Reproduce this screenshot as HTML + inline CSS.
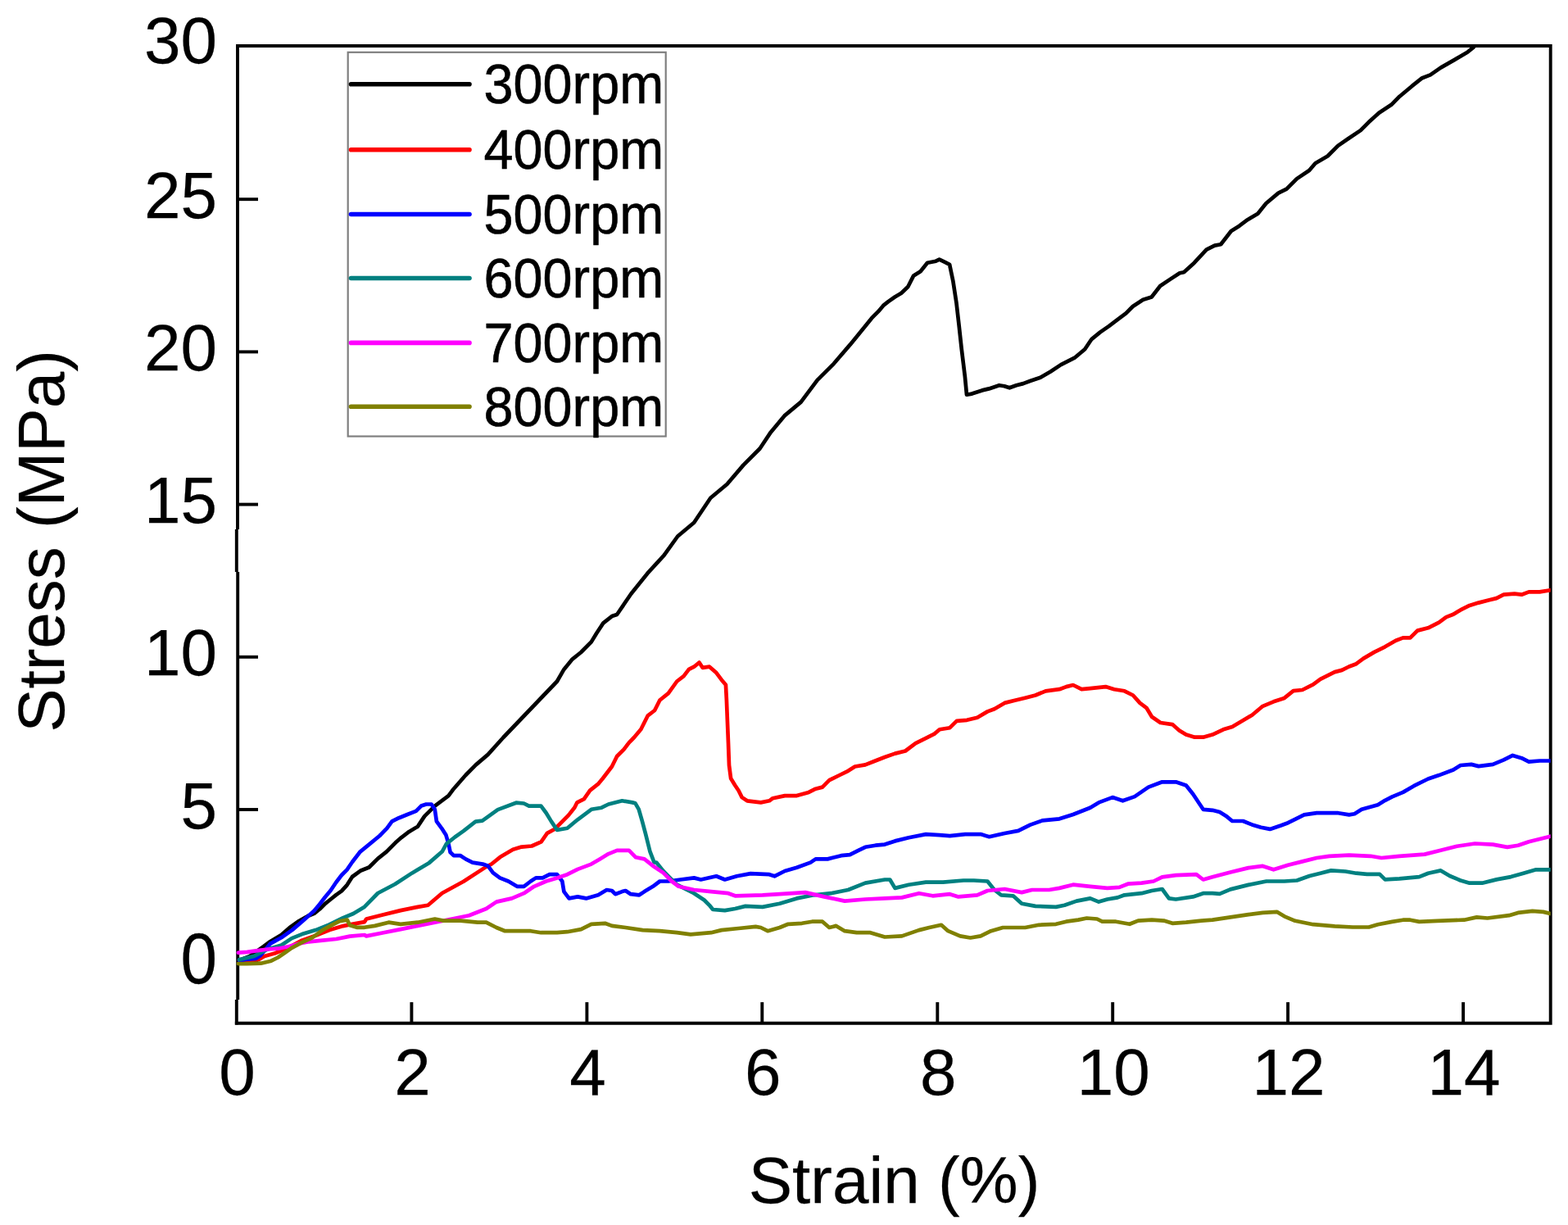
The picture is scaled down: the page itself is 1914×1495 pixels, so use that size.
<!DOCTYPE html>
<html><head><meta charset="utf-8"><style>
html,body{margin:0;padding:0;background:#fff;}
svg{display:block;}
text{font-family:"Liberation Sans",Arial,sans-serif;fill:#000;stroke:#000;stroke-width:0.25px;}
.lg text{stroke-width:0.6px;}
</style></head><body>
<svg width="1914" height="1495" viewBox="0 0 1914 1495">
<rect width="1914" height="1495" fill="#fff"/>
<g stroke="#000" stroke-width="3.9" fill="none">
<path d="M290,56 H1892.7 V1248.8 H288.8" stroke-linecap="square"/>
<path d="M290,56 V646 M288.8,646 V698 M290.2,698 V1220 M288.8,1220 V1250.6"/>
<line x1="502.4" y1="1248.8" x2="502.4" y2="1223.1"/>
<line x1="716.4" y1="1248.8" x2="716.4" y2="1223.1"/>
<line x1="930.3" y1="1248.8" x2="930.3" y2="1223.1"/>
<line x1="1144.3" y1="1248.8" x2="1144.3" y2="1223.1"/>
<line x1="1358.2" y1="1248.8" x2="1358.2" y2="1223.1"/>
<line x1="1572.1" y1="1248.8" x2="1572.1" y2="1223.1"/>
<line x1="1786.1" y1="1248.8" x2="1786.1" y2="1223.1"/>
<line x1="290" y1="1174.3" x2="315" y2="1174.3"/>
<line x1="290" y1="988.0" x2="315" y2="988.0"/>
<line x1="290" y1="801.8" x2="315" y2="801.8"/>
<line x1="290" y1="615.6" x2="315" y2="615.6"/>
<line x1="290" y1="429.4" x2="315" y2="429.4"/>
<line x1="290" y1="243.2" x2="315" y2="243.2"/>
</g>
<clipPath id="pc"><rect x="288" y="56" width="1604.7" height="1192.8"/></clipPath>
<g fill="none" stroke-width="4.7" stroke-linejoin="round" stroke-linecap="round" clip-path="url(#pc)">
<path d="M292.0,1172.0 L305.0,1167.0 L322.0,1155.0 L330.0,1149.0 L343.4,1141.0 L353.4,1132.2 L365.0,1124.0 L375.6,1118.0 L383.5,1114.8 L390.2,1109.5 L396.9,1102.8 L403.6,1097.5 L410.3,1092.1 L417.0,1087.4 L423.6,1080.1 L430.0,1070.0 L439.8,1062.8 L450.5,1058.5 L461.2,1047.8 L471.9,1039.3 L482.6,1028.6 L490.0,1022.1 L499.4,1014.9 L509.9,1008.7 L518.2,996.1 L530.8,983.6 L547.5,971.1 L553.8,962.7 L568.4,946.0 L580.9,933.4 L595.6,920.9 L614.4,900.0 L680.0,831.5 L688.4,816.9 L698.8,804.3 L709.3,796.0 L721.8,783.4 L728.1,773.0 L736.4,760.4 L746.9,752.1 L753.1,750.0 L770.3,724.7 L790.4,699.7 L810.4,677.9 L827.2,654.5 L847.2,637.8 L867.3,607.7 L887.4,591.0 L907.4,567.6 L927.5,547.5 L940.9,527.4 L957.6,507.4 L977.7,490.6 L997.7,463.9 L1017.8,443.8 L1037.9,420.4 L1056.0,398.2 L1064.1,388.2 L1072.1,380.2 L1078.2,372.9 L1084.2,368.1 L1092.2,362.5 L1100.2,357.7 L1108.3,350.0 L1115.2,336.4 L1123.6,331.2 L1132.0,320.8 L1142.4,318.7 L1146.6,316.6 L1152.9,319.7 L1159.1,322.8 L1163.3,342.7 L1167.5,369.9 L1170.6,397.0 L1173.8,426.3 L1177.9,459.7 L1180.0,481.7 L1186.3,480.6 L1198.8,476.4 L1207.2,474.4 L1219.7,470.2 L1226.0,471.2 L1232.3,473.3 L1240.6,470.2 L1249.0,468.1 L1257.3,465.0 L1269.9,460.8 L1282.4,453.5 L1295.0,445.1 L1311.7,436.7 L1324.2,426.3 L1332.6,413.8 L1343.0,405.4 L1353.5,398.1 L1366.0,388.7 L1374.4,382.4 L1382.7,374.0 L1395.3,365.7 L1405.7,362.5 L1416.2,349.0 L1428.7,340.6 L1440.0,333.3 L1445.1,332.2 L1457.6,320.9 L1472.7,304.6 L1482.7,299.6 L1490.2,298.3 L1502.8,282.0 L1512.8,275.7 L1522.8,268.2 L1535.4,260.7 L1545.4,248.2 L1560.4,235.6 L1570.5,230.6 L1583.0,218.1 L1598.1,208.0 L1605.6,199.2 L1620.6,190.5 L1633.2,177.9 L1645.7,169.2 L1660.8,159.1 L1670.8,149.1 L1683.3,137.8 L1698.4,127.8 L1708.4,117.7 L1723.4,105.2 L1736.0,95.2 L1746.0,91.4 L1758.6,82.6 L1776.1,72.6 L1791.2,63.8 L1798.7,57.6" stroke="#000000"/>
<path d="M292.0,1172.0 L305.0,1172.0 L315.9,1171.1 L322.6,1166.9 L335.2,1163.5 L347.7,1158.5 L356.1,1154.3 L368.6,1147.6 L385.3,1141.8 L402.0,1135.1 L418.8,1130.1 L427.1,1128.4 L445.0,1125.1 L447.2,1121.5 L468.1,1116.3 L489.0,1111.1 L509.9,1106.9 L522.4,1104.8 L539.7,1090.0 L565.8,1075.8 L593.0,1058.1 L600.0,1054.5 L610.4,1046.1 L626.1,1036.7 L636.6,1033.6 L649.1,1032.5 L660.6,1027.3 L667.9,1016.9 L677.3,1011.7 L683.6,1005.4 L694.0,994.9 L701.4,985.5 L704.5,979.3 L712.9,975.1 L720.2,964.6 L730.6,956.3 L735.8,950.0 L746.9,935.5 L753.1,923.0 L761.5,914.6 L767.8,906.3 L774.0,900.0 L782.4,890.0 L790.8,873.3 L799.1,867.0 L805.4,854.5 L815.8,846.1 L826.3,831.5 L834.6,825.2 L840.9,816.9 L847.2,813.7 L853.5,808.5 L857.6,814.8 L866.0,813.7 L874.4,821.1 L880.6,829.4 L885.9,835.7 L886.9,854.5 L887.9,879.6 L889.0,906.7 L890.0,933.9 L892.1,950.0 L897.3,958.5 L901.5,964.8 L905.7,973.1 L912.0,977.3 L928.7,979.4 L939.1,977.3 L943.3,974.2 L958.0,971.1 L972.6,971.1 L987.2,966.9 L995.6,962.7 L1003.9,960.6 L1012.3,952.2 L1024.8,946.0 L1035.3,940.8 L1043.6,935.5 L1056.2,933.4 L1066.6,929.3 L1080.0,924.0 L1092.5,919.6 L1105.1,916.5 L1117.6,907.1 L1130.2,900.8 L1140.6,895.6 L1146.9,890.3 L1159.4,888.2 L1167.8,879.9 L1180.3,878.8 L1192.9,875.7 L1205.4,868.4 L1213.8,865.3 L1226.3,857.9 L1238.8,854.8 L1251.4,851.7 L1263.9,848.5 L1276.4,843.3 L1293.2,841.2 L1301.5,838.1 L1309.9,836.0 L1320.3,841.2 L1330.8,840.2 L1349.6,838.1 L1360.0,841.2 L1372.6,843.3 L1383.0,848.5 L1391.4,857.9 L1399.7,864.2 L1406.0,874.7 L1416.5,882.0 L1431.1,884.1 L1439.5,891.4 L1447.8,896.6 L1458.3,899.7 L1468.7,899.7 L1480.0,896.6 L1493.2,890.3 L1504.1,887.0 L1515.1,880.4 L1528.3,872.7 L1541.4,861.8 L1554.6,856.3 L1567.8,851.9 L1578.7,843.1 L1589.7,842.0 L1602.9,835.4 L1611.7,828.8 L1629.2,820.1 L1638.0,817.9 L1646.8,813.5 L1655.5,810.2 L1664.3,803.6 L1677.5,795.9 L1690.7,789.3 L1703.8,781.7 L1712.6,778.4 L1721.4,778.4 L1730.2,769.6 L1743.3,766.3 L1756.5,759.7 L1765.3,753.1 L1774.0,749.8 L1782.8,744.4 L1793.8,738.9 L1804.8,735.6 L1817.9,732.3 L1826.7,730.1 L1835.5,725.7 L1848.7,724.6 L1857.4,725.7 L1866.2,722.4 L1879.4,722.4 L1892.5,720.2" stroke="#FF0000"/>
<path d="M292.0,1172.0 L295.0,1171.9 L300.0,1171.0 L312.0,1170.0 L318.0,1166.0 L324.0,1159.0 L330.0,1151.6 L343.4,1144.3 L356.8,1134.9 L370.1,1123.5 L383.5,1111.5 L390.2,1103.5 L396.9,1094.8 L403.6,1086.8 L410.3,1076.7 L417.0,1068.0 L423.6,1061.3 L430.0,1052.0 L439.8,1039.3 L450.5,1030.7 L463.4,1020.0 L472.3,1010.8 L478.5,1002.4 L486.9,998.2 L497.3,994.0 L507.8,989.9 L514.1,983.6 L520.3,981.5 L526.6,981.5 L530.8,987.8 L532.9,1002.4 L539.1,1010.8 L544.4,1019.1 L547.5,1029.6 L549.6,1040.0 L553.8,1044.2 L562.1,1044.2 L568.4,1048.4 L576.8,1052.6 L589.3,1054.6 L595.6,1056.7 L601.8,1065.1 L610.2,1071.4 L620.6,1075.5 L631.1,1081.8 L639.5,1081.8 L647.8,1075.5 L654.1,1071.4 L662.4,1071.4 L670.8,1067.2 L680.0,1067.2 L686.3,1075.5 L688.4,1088.1 L694.6,1096.4 L705.1,1094.4 L715.5,1096.4 L730.2,1092.3 L740.6,1086.0 L746.9,1087.0 L751.1,1091.2 L759.4,1088.1 L763.6,1087.0 L769.9,1091.2 L780.3,1092.3 L786.6,1088.1 L797.0,1081.8 L805.4,1075.5 L815.8,1075.5 L830.5,1073.5 L847.2,1071.4 L855.5,1073.5 L874.4,1069.3 L884.8,1073.5 L899.4,1069.3 L916.2,1066.1 L939.1,1067.2 L945.4,1069.3 L958.0,1063.0 L972.6,1058.8 L989.3,1052.6 L995.6,1048.4 L1010.2,1048.4 L1026.9,1044.2 L1037.4,1043.2 L1047.8,1037.9 L1056.2,1033.8 L1068.7,1031.7 L1080.0,1030.6 L1092.5,1026.4 L1109.3,1022.3 L1130.2,1018.1 L1146.9,1019.1 L1159.4,1020.2 L1178.2,1018.1 L1197.0,1018.1 L1207.5,1021.2 L1226.3,1017.0 L1243.0,1013.9 L1257.6,1006.6 L1272.3,1001.4 L1293.2,999.3 L1309.9,994.0 L1330.8,985.7 L1341.2,979.4 L1358.0,973.1 L1370.5,977.3 L1385.1,972.1 L1401.8,960.6 L1418.6,954.3 L1435.3,954.3 L1447.8,958.5 L1456.2,969.0 L1464.5,981.5 L1468.7,987.8 L1480.0,988.8 L1488.8,991.1 L1497.6,996.6 L1504.1,1002.0 L1517.3,1002.0 L1528.3,1006.4 L1539.2,1009.7 L1550.2,1011.9 L1563.4,1007.5 L1572.2,1004.2 L1580.9,999.8 L1591.9,994.4 L1607.3,992.2 L1633.6,992.2 L1646.8,994.4 L1653.4,993.3 L1662.1,987.8 L1681.9,982.3 L1690.7,976.8 L1699.4,972.4 L1712.6,966.9 L1725.8,959.2 L1743.3,950.5 L1756.5,946.1 L1774.0,939.5 L1782.8,934.0 L1796.0,932.9 L1804.8,935.1 L1822.3,932.9 L1835.5,927.4 L1846.5,921.9 L1857.4,925.2 L1866.2,929.6 L1879.4,928.5 L1892.5,928.5" stroke="#0000FF"/>
<path d="M292.0,1171.0 L295.9,1170.2 L310.1,1166.9 L326.8,1158.5 L343.5,1153.5 L356.1,1145.1 L368.6,1140.1 L385.3,1135.1 L402.0,1128.4 L418.8,1120.1 L431.3,1115.0 L445.0,1106.7 L461.3,1090.0 L482.2,1079.0 L503.1,1065.4 L524.0,1052.9 L539.7,1039.3 L544.9,1029.9 L555.4,1021.5 L565.8,1014.2 L580.5,1002.7 L588.8,1001.7 L607.6,988.1 L630.0,979.7 L639.5,980.5 L645.7,983.6 L654.1,983.6 L660.4,983.6 L666.6,992.0 L672.9,1002.4 L680.0,1012.9 L692.5,1010.8 L705.1,1000.3 L721.8,987.8 L734.3,985.7 L742.7,981.5 L759.4,977.3 L772.0,979.4 L775.5,980.3 L779.7,987.6 L783.9,1002.2 L788.1,1017.9 L793.3,1038.8 L798.5,1052.4 L801.2,1052.6 L809.6,1063.0 L817.9,1071.4 L826.3,1079.7 L847.2,1090.2 L859.7,1098.5 L866.0,1104.8 L870.2,1110.0 L884.8,1111.1 L897.3,1109.0 L909.9,1105.9 L930.8,1106.9 L951.7,1102.7 L972.6,1096.4 L993.5,1092.3 L1014.4,1090.2 L1035.3,1086.0 L1056.2,1077.6 L1080.0,1073.5 L1086.3,1073.5 L1092.5,1083.9 L1109.3,1079.7 L1130.2,1076.6 L1151.1,1076.6 L1176.1,1074.5 L1188.7,1074.5 L1205.4,1075.5 L1213.8,1086.0 L1222.1,1092.3 L1236.7,1093.3 L1247.2,1102.7 L1263.9,1105.9 L1289.0,1106.9 L1299.4,1104.8 L1314.1,1099.6 L1330.8,1096.4 L1341.2,1100.6 L1351.7,1097.5 L1364.2,1095.4 L1372.6,1092.3 L1393.5,1090.2 L1406.0,1087.0 L1418.6,1085.0 L1426.9,1096.4 L1435.3,1097.5 L1456.2,1094.4 L1468.7,1090.2 L1480.0,1090.2 L1488.8,1090.9 L1501.9,1085.4 L1523.9,1079.9 L1545.8,1075.5 L1567.8,1075.5 L1583.1,1074.5 L1598.5,1069.0 L1611.7,1065.7 L1624.8,1062.4 L1642.4,1063.5 L1655.5,1065.7 L1668.7,1066.8 L1684.1,1066.8 L1690.7,1073.4 L1708.2,1072.3 L1732.4,1070.1 L1743.3,1065.7 L1758.7,1062.4 L1769.7,1069.0 L1782.8,1074.5 L1793.8,1077.7 L1809.2,1077.7 L1826.7,1073.4 L1844.3,1070.1 L1859.6,1065.7 L1875.0,1061.3 L1892.5,1061.3" stroke="#008080"/>
<path d="M290.9,1162.7 L301.7,1161.9 L314.3,1160.2 L326.8,1158.5 L339.3,1157.7 L351.9,1155.2 L364.4,1151.8 L377.0,1149.3 L393.7,1147.6 L410.4,1146.0 L427.1,1142.6 L445.0,1141.0 L447.2,1142.4 L468.1,1138.2 L489.0,1134.1 L509.9,1129.9 L530.8,1125.7 L551.7,1121.5 L572.6,1117.3 L593.5,1109.0 L606.0,1100.6 L624.8,1096.4 L639.5,1090.2 L652.0,1081.8 L666.6,1075.5 L680.0,1071.4 L692.5,1067.2 L705.1,1060.9 L721.8,1054.6 L732.2,1048.4 L742.7,1042.1 L753.1,1037.9 L767.8,1037.9 L776.1,1046.3 L786.6,1048.4 L797.0,1056.7 L809.6,1065.1 L820.0,1075.5 L828.4,1081.8 L847.2,1086.0 L868.1,1088.1 L889.0,1090.2 L897.3,1093.3 L930.8,1092.3 L951.7,1091.2 L983.0,1089.1 L1006.0,1094.4 L1031.1,1099.6 L1056.2,1097.5 L1080.0,1096.4 L1100.9,1095.4 L1121.8,1090.2 L1138.5,1093.3 L1159.4,1091.2 L1169.9,1094.4 L1192.9,1092.3 L1205.4,1087.0 L1226.3,1085.0 L1247.2,1089.1 L1259.7,1086.0 L1280.6,1086.0 L1293.2,1083.9 L1309.9,1079.7 L1330.8,1081.8 L1351.7,1083.9 L1366.3,1082.9 L1376.8,1078.7 L1393.5,1077.6 L1408.1,1075.5 L1418.6,1070.3 L1435.3,1068.2 L1460.4,1067.2 L1468.7,1073.5 L1480.0,1070.3 L1501.9,1064.6 L1523.9,1059.1 L1541.4,1056.9 L1554.6,1061.3 L1572.2,1055.8 L1589.7,1051.4 L1607.3,1047.0 L1622.6,1044.8 L1646.8,1043.7 L1673.1,1044.8 L1686.3,1047.0 L1708.2,1044.8 L1738.9,1042.6 L1756.5,1038.2 L1778.4,1032.8 L1800.4,1029.5 L1822.3,1030.6 L1839.9,1033.9 L1853.0,1031.7 L1866.2,1027.3 L1892.5,1020.7" stroke="#FF00FF"/>
<path d="M290.9,1176.1 L301.7,1176.1 L318.4,1175.7 L331.0,1172.7 L339.3,1168.5 L347.7,1162.7 L356.1,1156.8 L368.6,1150.2 L381.1,1144.3 L393.7,1135.1 L406.2,1128.4 L414.6,1124.2 L423.8,1122.6 L427.1,1129.3 L435.5,1131.8 L445.0,1131.8 L457.6,1129.9 L474.4,1125.7 L489.0,1127.8 L509.9,1125.7 L530.8,1121.5 L541.2,1123.6 L562.1,1123.6 L583.0,1125.7 L593.5,1125.7 L606.0,1132.0 L616.5,1136.2 L635.3,1136.2 L647.8,1136.2 L660.4,1138.2 L680.0,1138.2 L692.5,1137.2 L709.3,1134.1 L721.8,1127.8 L738.5,1126.8 L746.9,1129.9 L763.6,1132.0 L784.5,1135.1 L805.4,1136.2 L826.3,1138.2 L843.0,1140.3 L868.1,1138.2 L880.6,1135.1 L901.5,1133.0 L922.4,1130.9 L928.7,1132.0 L937.1,1136.2 L951.7,1132.0 L962.1,1127.8 L978.9,1126.8 L991.4,1124.7 L1003.9,1124.7 L1012.3,1132.0 L1020.6,1129.9 L1031.1,1136.2 L1045.7,1138.2 L1062.4,1138.2 L1080.0,1143.5 L1100.9,1142.4 L1121.8,1135.1 L1134.3,1132.0 L1149.0,1128.8 L1157.3,1136.2 L1172.0,1142.4 L1184.5,1144.5 L1197.0,1142.4 L1209.6,1136.2 L1224.2,1132.0 L1251.4,1132.0 L1268.1,1128.8 L1289.0,1127.8 L1301.5,1124.7 L1316.2,1122.6 L1326.6,1120.5 L1339.1,1121.5 L1345.4,1124.7 L1362.1,1124.7 L1378.9,1127.8 L1389.3,1123.6 L1406.0,1122.6 L1420.6,1123.6 L1431.1,1126.8 L1447.8,1125.7 L1466.6,1123.6 L1480.0,1122.6 L1501.9,1119.4 L1523.9,1116.1 L1541.4,1113.9 L1559.0,1112.9 L1567.8,1118.3 L1580.9,1123.8 L1602.9,1128.2 L1629.2,1130.4 L1651.2,1131.5 L1670.9,1131.5 L1681.9,1128.2 L1699.4,1124.9 L1712.6,1122.7 L1721.4,1122.7 L1732.4,1124.9 L1754.3,1123.8 L1787.2,1122.7 L1802.6,1119.4 L1815.7,1120.5 L1842.1,1117.2 L1853.0,1113.9 L1870.6,1111.8 L1883.8,1112.9 L1892.5,1115.0" stroke="#808000"/>
</g>
<rect x="424.7" y="63.8" width="388" height="468.7" fill="none" stroke="#7f7f7f" stroke-width="2.2"/>
<g class="lg" font-size="69.3">
<line x1="428.5" y1="102.7" x2="573" y2="102.7" stroke="#000000" stroke-width="5.6" stroke-linecap="round"/>
<text x="590.6" y="126.1" textLength="219.5" lengthAdjust="spacingAndGlyphs">300rpm</text>
<line x1="428.5" y1="182.7" x2="573" y2="182.7" stroke="#FF0000" stroke-width="5.6" stroke-linecap="round"/>
<text x="590.6" y="206.1" textLength="219.5" lengthAdjust="spacingAndGlyphs">400rpm</text>
<line x1="428.5" y1="261.5" x2="573" y2="261.5" stroke="#0000FF" stroke-width="5.6" stroke-linecap="round"/>
<text x="590.6" y="284.9" textLength="219.5" lengthAdjust="spacingAndGlyphs">500rpm</text>
<line x1="428.5" y1="339.5" x2="573" y2="339.5" stroke="#008080" stroke-width="5.6" stroke-linecap="round"/>
<text x="590.6" y="362.9" textLength="219.5" lengthAdjust="spacingAndGlyphs">600rpm</text>
<line x1="428.5" y1="418.4" x2="573" y2="418.4" stroke="#FF00FF" stroke-width="5.6" stroke-linecap="round"/>
<text x="590.6" y="441.8" textLength="219.5" lengthAdjust="spacingAndGlyphs">700rpm</text>
<line x1="428.5" y1="496.3" x2="573" y2="496.3" stroke="#808000" stroke-width="5.6" stroke-linecap="round"/>
<text x="590.6" y="519.7" textLength="219.5" lengthAdjust="spacingAndGlyphs">800rpm</text>
</g>
<g font-size="80">
<text x="289.5" y="1335.8" text-anchor="middle">0</text>
<text x="503.4" y="1335.8" text-anchor="middle">2</text>
<text x="717.4" y="1335.8" text-anchor="middle">4</text>
<text x="931.3" y="1335.8" text-anchor="middle">6</text>
<text x="1145.3" y="1335.8" text-anchor="middle">8</text>
<text x="1359.2" y="1335.8" text-anchor="middle">10</text>
<text x="1573.1" y="1335.8" text-anchor="middle">12</text>
<text x="1787.1" y="1335.8" text-anchor="middle">14</text>
<text x="265" y="0" text-anchor="end" transform="translate(0,1199.5) scale(1,1.09)">0</text>
<text x="265" y="1011.4" text-anchor="end">5</text>
<text x="265" y="824.3" text-anchor="end">10</text>
<text x="265" y="637.5" text-anchor="end">15</text>
<text x="265" y="451.6" text-anchor="end">20</text>
<text x="265" y="265.5" text-anchor="end">25</text>
<text x="265" y="76.6" text-anchor="end">30</text>
</g>
<text x="1091.5" y="1467.8" font-size="80" text-anchor="middle">Strain (%)</text>
<text transform="translate(78,660.5) rotate(-90)" font-size="80" text-anchor="middle">Stress (MPa)</text>
</svg>
</body></html>
